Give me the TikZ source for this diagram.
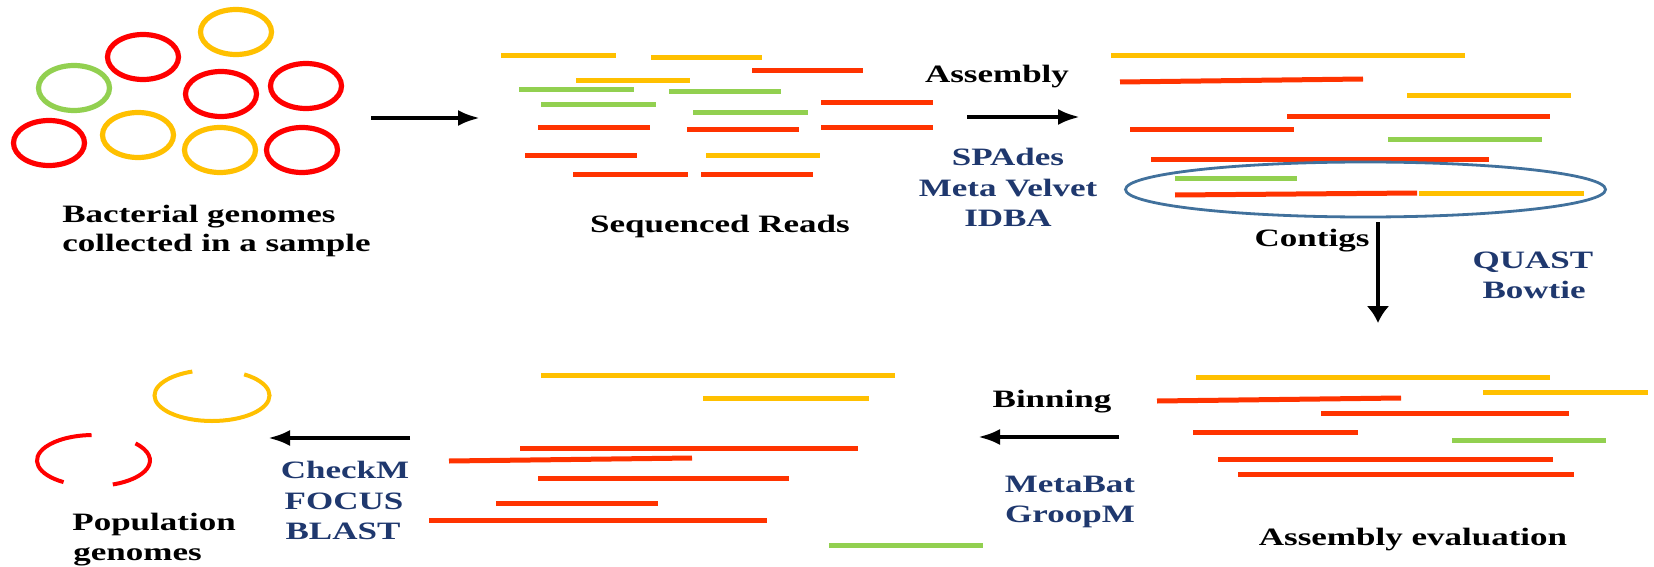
\documentclass[tikz,border=0pt]{standalone}
\usepackage{fontspec}
\setmainfont{Liberation Serif}
\usepackage{graphicx}
\usetikzlibrary{arrows.meta}
\definecolor{ringred}{RGB}{255,0,0}
\definecolor{readred}{RGB}{255,51,0}
\definecolor{gold}{RGB}{255,192,0}
\definecolor{leaf}{RGB}{146,208,80}
\definecolor{navy}{RGB}{31,56,110}
\definecolor{steel}{RGB}{65,113,156}
% wide bold lettering
\newcommand{\stx}[1]{\scalebox{1.4}[1]{#1}}
\begin{document}
\begin{tikzpicture}[x=0.5pt,y=-0.5pt,
  ring/.style={line width=2.6pt},
  brokenring/.style={line width=2pt},
  read/.style={line width=2.5pt},
  arr/.style={line width=2pt,-{Latex[length=11pt,width=8pt]}},
  darr/.style={line width=2pt,-{Latex[length=8.5pt,width=11.5pt]}},
  lab/.style={font=\fontsize{12.5}{15}\selectfont\bfseries,text=black,inner sep=0pt},
  tool/.style={lab,text=navy}]
\fill[white] (0,0) rectangle (1654,567);
\useasboundingbox (0,0) rectangle (1654,567);

% genomes in the sample
\foreach \cx/\cy/\c in {236/32/gold,143/57/ringred,74/88/leaf,221/94/ringred,306/86/ringred,
  49/143/ringred,138/135/gold,220/150/gold,302/150/ringred}
  \draw[ring,\c] (\cx,\cy) ellipse [x radius=35.5, y radius=22.5];
\node[lab,anchor=base west] (bact1) at (62,222) {\stx{Bacterial genomes}};
\node[lab,anchor=base west] (bact2) at (62,251) {\stx{collected in a sample}};

% sequenced reads
\foreach \a/\b/\y/\c in {501/616/56/gold,651/762/58/gold,752/863/71/readred,576/690/81/gold,
  519/634/90/leaf,669/781/92/leaf,821/933/103/readred,541/656/105/leaf,693/808/113/leaf,
  538/650/128/readred,687/799/130/readred,821/933/128/readred,525/637/155/readred,
  706/820/155/gold,573/688/174/readred,701/813/174/readred}
  \draw[read,\c] (\a,\y) -- (\b,\y);
\node[lab,anchor=base] (reads) at (720,232) {\stx{Sequenced Reads}};

% assembled contigs
\foreach \a/\b/\y/\c in {1111/1465/56/gold,1407/1571/96/gold,1287/1550/117/readred,
  1130/1294/130/readred,1388/1542/140/leaf,1151/1489/159/readred,1175/1297/178/leaf,
  1419/1584/193/gold}
  \draw[read,\c] (\a,\y) -- (\b,\y);
\draw[read,readred] (1120,82) -- (1363,79);
\draw[read,readred] (1175,195) -- (1417,193);
\draw[steel,line width=1.4pt] (1365.5,189.5) ellipse [x radius=240, y radius=27.5];
\node[lab,anchor=base] (contigs) at (1312,246) {\stx{Contigs}};
\node[tool,anchor=base] (quast) at (1533,268) {\stx{QUAST}};
\node[tool,anchor=base] (bowtie) at (1534,298) {\stx{Bowtie}};

% assembly step
\node[lab,anchor=base] (assembly) at (997,83) {\stx{Assembly}};
\node[tool,anchor=base] (spades) at (1008,165) {\stx{SPAdes}};
\node[tool,anchor=base] (velvet) at (1008,196) {\stx{Meta Velvet}};
\node[tool,anchor=base] (idba) at (1008,226) {\stx{IDBA}};

% evaluated assembly
\foreach \a/\b/\y/\c in {1196/1550/377/gold,1483/1648/392/gold,1321/1569/413/readred,
  1193/1358/432/readred,1452/1606/440/leaf,1218/1553/459/readred,1238/1574/474/readred}
  \draw[read,\c] (\a,\y) -- (\b,\y);
\draw[read,readred] (1157,401) -- (1401,398);
\node[lab,anchor=base] (evaluation) at (1413,545) {\stx{Assembly evaluation}};

% binning step
\node[lab,anchor=base] (binning) at (1052,407) {\stx{Binning}};
\node[tool,anchor=base] (metabat) at (1070,492) {\stx{MetaBat}};
\node[tool,anchor=base] (groopm) at (1070,522) {\stx{GroopM}};

% bins
\foreach \a/\b/\y/\c in {541/895/375/gold,703/869/398/gold,520/858/448/readred,
  538/789/478/readred,496/658/503/readred,429/767/520/readred,829/983/545/leaf}
  \draw[read,\c] (\a,\y) -- (\b,\y);
\draw[read,readred] (449,461) -- (692,458);

% checking step
\node[tool,anchor=base] (checkm) at (345,478) {\stx{CheckM}};
\node[tool,anchor=base] (focus) at (344,509) {\stx{FOCUS}};
\node[tool,anchor=base] (blast) at (343,539) {\stx{BLAST}};

% population genomes
\coordinate (popy) at (212,395.5);
\coordinate (popr) at (93.5,460.5);
\draw[brokenring,gold] ([shift={(-56:57.5 and 25.5)}]popy)
  arc[start angle=-56, end angle=250, x radius=57.5, y radius=25.5];
\draw[brokenring,ringred] ([shift={(122:56.5 and 25.5)}]popr)
  arc[start angle=122, end angle=268, x radius=56.5, y radius=25.5];
\draw[brokenring,ringred] ([shift={(-42:56.5 and 25.5)}]popr)
  arc[start angle=-42, end angle=70, x radius=56.5, y radius=25.5];
\node[lab,anchor=base west] (pop1) at (72,530) {\stx{Population}};
\node[lab,anchor=base west] (pop2) at (73,560) {\stx{genomes}};

% process arrows
\coordinate (s1) at (371,118);  \coordinate (e1) at (480,118);
\coordinate (s2) at (967,117);  \coordinate (e2) at (1080,117);
\coordinate (s3) at (1378,222); \coordinate (e3) at (1378,323);
\coordinate (s4) at (1119,437); \coordinate (e4) at (978,437);
\coordinate (s5) at (410,438);  \coordinate (e5) at (268,438);
\draw[arr] (s1) -- (e1);
\draw[arr] (s2) -- (e2);
\draw[darr] (s3) -- (e3);
\draw[arr] (s4) -- (e4);
\draw[arr] (s5) -- (e5);
\end{tikzpicture}
\end{document}
